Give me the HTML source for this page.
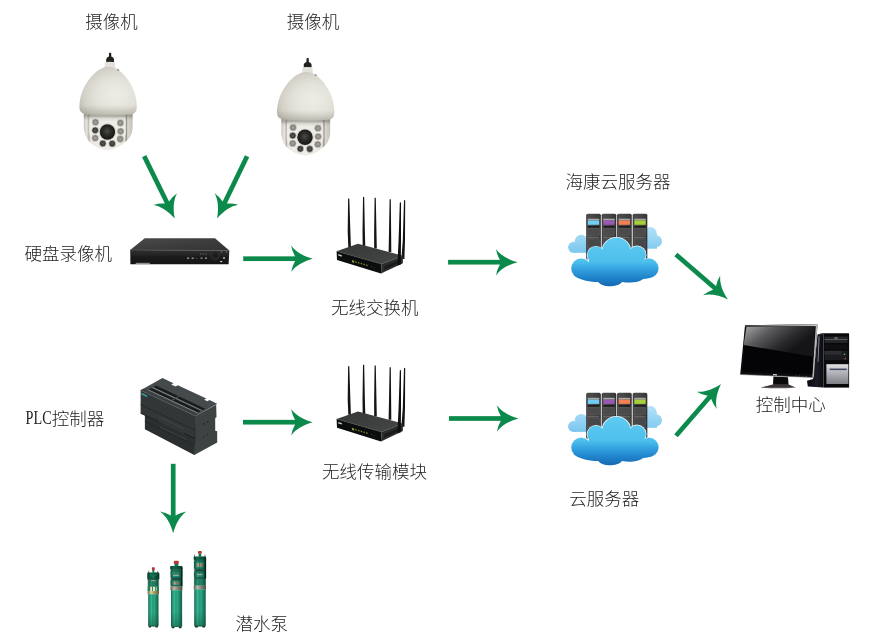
<!DOCTYPE html>
<html lang="zh-CN"><head><meta charset="utf-8"><title>系统拓扑图</title>
<style>
html,body{margin:0;padding:0;background:#fff}
body{width:869px;height:638px;overflow:hidden}
svg{display:block;will-change:transform}
text{font-family:"Liberation Sans","Noto Sans CJK SC",sans-serif;font-weight:300;font-size:17.5px;fill:#222}
.plc{font-family:"Liberation Serif","Noto Serif CJK SC",serif;font-weight:400;font-size:18px}
</style></head><body>
<svg width="869" height="638" viewBox="0 0 869 638">

<defs>
<radialGradient id="domeG" cx="0.63" cy="0.58" r="0.68">
<stop offset="0" stop-color="#edece6"/><stop offset="0.5" stop-color="#e3e2da"/><stop offset="0.82" stop-color="#d3d1c7"/><stop offset="1" stop-color="#bfbdb2"/>
</radialGradient>
<linearGradient id="domeShade" x1="0" y1="0" x2="0" y2="1">
<stop offset="0.8" stop-color="#8d8a7d" stop-opacity="0"/><stop offset="1" stop-color="#8d8a7d" stop-opacity="0.4"/>
</linearGradient>
<linearGradient id="headG" x1="0" y1="0" x2="1" y2="0">
<stop offset="0" stop-color="#c9c7be"/><stop offset="0.06" stop-color="#e8e6df"/><stop offset="0.11" stop-color="#b3b1a8"/><stop offset="0.13" stop-color="#e6e4de"/><stop offset="0.5" stop-color="#f1efea"/><stop offset="0.84" stop-color="#e2e0d9"/><stop offset="0.87" stop-color="#8f8d85"/><stop offset="0.9" stop-color="#d9d7cf"/><stop offset="1" stop-color="#c3c1b8"/>
</linearGradient>
<linearGradient id="headShade" x1="0" y1="0" x2="0" y2="1">
<stop offset="0" stop-color="#6f6d64" stop-opacity="0.6"/><stop offset="0.3" stop-color="#6f6d64" stop-opacity="0.5"/><stop offset="0.45" stop-color="#6f6d64" stop-opacity="0.12"/><stop offset="0.6" stop-color="#6f6d64" stop-opacity="0"/>
</linearGradient>
<radialGradient id="lensG" cx="0.48" cy="0.45" r="0.55">
<stop offset="0" stop-color="#4b4b47"/><stop offset="0.5" stop-color="#2a2a27"/><stop offset="1" stop-color="#171716"/>
</radialGradient>
<radialGradient id="ledA" cx="0.5" cy="0.5" r="0.5">
<stop offset="0" stop-color="#a9a79e"/><stop offset="0.7" stop-color="#85837b"/><stop offset="1" stop-color="#5d5b55"/>
</radialGradient>
<radialGradient id="ledB" cx="0.5" cy="0.5" r="0.5">
<stop offset="0" stop-color="#5a5953"/><stop offset="0.7" stop-color="#3a3936"/><stop offset="1" stop-color="#2c2b29"/>
</radialGradient>
<g id="camera">
<path d="M0.9 0.4 Q2 -0.2 3.1 0.4 L3.2 4 Q5.6 4.6 5.9 6.6 L5.9 9.6 L-1.9 9.6 L-1.9 6.6 Q-1.6 4.6 0.8 4Z" fill="#222221"/>
<path d="M-3.3 9.6 Q1.8 8.6 6.9 9.6 L7.1 14.6 Q8 16.4 10.3 17.6 L-6.7 17.6 Q-4.4 16.4 -3.5 14.6Z" fill="#e3e1d9"/>
<path d="M-24.3 58 L24.5 58 L24.5 76 Q23.4 85 17.7 89 Q9.9 96.6 -0.6 97.6 Q-11.1 96.6 -19 89 Q-23.1 85 -24.3 76Z" fill="url(#headG)"/>
<path d="M-18.7 64 L17.5 64 L17.7 80 Q16.4 90 8.4 95 Q-0.6 98.6 -9.6 95 Q-17.6 90 -18.9 80Z" fill="#eeece6"/>
<path d="M-24.3 58 L24.5 58 L24.5 76 L-24.3 76Z" fill="url(#headShade)"/>
<circle cx="-0.65" cy="79.4" r="8.9" fill="#dcdad3"/>
<circle cx="-0.65" cy="79.4" r="7.7" fill="url(#lensG)"/>
<g stroke="#dedcd5" stroke-width="0.7">
<circle cx="-12.6" cy="69.6" r="3.4" fill="url(#ledA)"/>
<circle cx="-12.9" cy="77.7" r="3.4" fill="url(#ledB)"/>
<circle cx="-12.9" cy="85.5" r="3.4" fill="url(#ledA)"/>
<circle cx="-5.3" cy="90.9" r="3.4" fill="url(#ledB)"/>
<circle cx="4.1" cy="91.1" r="3.4" fill="url(#ledB)"/>
<circle cx="12.1" cy="86.4" r="3.4" fill="url(#ledA)"/>
<circle cx="12.5" cy="78.7" r="3.4" fill="url(#ledA)"/>
<circle cx="12.3" cy="70.3" r="3.4" fill="url(#ledA)"/>
</g>
<path id="domeP" d="M0.6 14.2 C13 14.2 28.7 33.5 28.7 54.4 L28.2 58 Q27 61 23 61.6 Q0 63.4 -23 61.4 Q-27 60.6 -28.2 58 L-28.7 54.4 C-28.7 33.5 -12 14.2 0.6 14.2Z" fill="url(#domeG)"/>
<path d="M0.6 14.2 C13 14.2 28.7 33.5 28.7 54.4 L28.2 58 Q27 61 23 61.6 Q0 63.4 -23 61.4 Q-27 60.6 -28.2 58 L-28.7 54.4 C-28.7 33.5 -12 14.2 0.6 14.2Z" fill="url(#domeShade)"/>
<ellipse cx="10.1" cy="17.2" rx="1.2" ry="0.8" fill="#8f8c80" transform="rotate(35 10.1 17.2)"/>
</g>
</defs>
<use href="#camera" transform="translate(108.1 52.6)"/>
<use href="#camera" transform="translate(305.65 57.9)"/>

<defs>
<linearGradient id="dvrTop" x1="0" y1="0" x2="1" y2="1">
<stop offset="0" stop-color="#4a4a4a"/><stop offset="0.6" stop-color="#3b3b3b"/><stop offset="1" stop-color="#333"/>
</linearGradient>
<linearGradient id="dvrFront" x1="0" y1="0" x2="0" y2="1">
<stop offset="0" stop-color="#303030"/><stop offset="0.35" stop-color="#242424"/><stop offset="0.5" stop-color="#1a1a1a"/><stop offset="1" stop-color="#151515"/>
</linearGradient>
</defs>
<g id="dvr">
<path d="M144.7 238.2 L215 238.2 L229.3 250.6 L130.2 249.9Z" fill="url(#dvrTop)"/>
<path d="M130.2 249.9 L229.3 250.6 L228.6 264.3 L130.4 264.3Z" fill="url(#dvrFront)"/>
<path d="M130.2 249.9 L229.3 250.6" stroke="#5a5a5a" stroke-width="0.6" fill="none"/>
<rect x="135.7" y="262.8" width="14.2" height="1.2" fill="#8f8f8f"/>
<g fill="#b8b8b8">
<rect x="187" y="257.6" width="2.2" height="1.1"/><rect x="191.6" y="257.6" width="2.2" height="1.1"/>
<rect x="200.6" y="257.6" width="1.8" height="1.1"/><rect x="205" y="257.6" width="2" height="1.1"/>
<rect x="223" y="257.4" width="2" height="1.2" fill="#e0e0e0"/><rect x="220.2" y="261" width="2" height="1.1" fill="#e0e0e0"/>
</g>
<g fill="#777"><circle cx="200.8" cy="254.1" r="0.6"/><circle cx="203.4" cy="254.1" r="0.6"/><circle cx="206" cy="254.1" r="0.6"/><circle cx="196.8" cy="258.2" r="0.5"/>
<circle cx="221.4" cy="251.9" r="0.7"/><circle cx="226.5" cy="251.9" r="0.7"/></g>
<circle cx="215.2" cy="255.7" r="4.4" fill="#242424" stroke="#383838" stroke-width="0.6"/>
<circle cx="215.2" cy="255.7" r="2.2" fill="#1c1c1c"/>
</g>

<defs>
<linearGradient id="rtTop" x1="0" y1="0" x2="1" y2="1">
<stop offset="0" stop-color="#343736"/><stop offset="1" stop-color="#454846"/>
</linearGradient>
<g id="router">
<g fill="#131414">
<path d="M348.1 198.8 Q348.7 197.8 349.3 198.8 L350.4 232 L350.9 247 L348.3 247 L347.7 232Z"/>
<path d="M363 197.2 Q363.6 196.2 364.2 197.2 L364.9 232 L365.3 247 L362.7 247 L362.5 232Z"/>
<path d="M374.6 198 Q375.2 197 375.8 198 L376.5 234 L376.8 248.5 L374.2 248.5 L374.1 234Z"/>
<path d="M389.6 199.6 Q390.2 198.6 390.8 199.6 L391.2 238 L391.3 252 L388.6 252 L388.9 238Z"/>
<path d="M404 200.4 Q404.6 199.4 405.2 200.4 L405 240 L404.4 259 L401.4 259 L402.8 240Z"/>
</g>
<path d="M336.6 251.2 L358 243.8 L402.9 255.7 L381.6 264.1Z" fill="url(#rtTop)"/>
<path d="M336.6 251.2 L381.6 264.1 L381 273.6 L337 259.9Z" fill="#0b0c0c"/>
<path d="M381.6 264.1 L402.9 255.7 L402.9 263.2 L381 273.6Z" fill="#2a2d2b"/>
<path d="M384.5 266.3 L400.5 259.6 L400.5 262.4 L384.3 269.8Z" fill="#1a1c1b"/>
<path d="M336.6 251.2 L381.6 264.1" stroke="#4f5351" stroke-width="0.5" fill="none"/>
<path d="M399.8 202.8 Q400.4 201.6 401 202.8 L401 240 L400.8 264.5 L397.4 265.4 L398.6 240Z" fill="#0e0f0f"/>
<path d="M338.2 254.1 L341.9 255.2 L341.9 256.7 L338.2 255.6Z" fill="#c9c9c9"/>
<g fill="#7c9a30">
<path d="M352 260 L354.2 260.65 L354.2 262.9 L352 262.25Z"/>
<path d="M355.3 261.3 L356.7 261.7 L356.7 262.9 L355.3 262.5Z"/>
<path d="M358 262 L359.4 262.4 L359.4 263.7 L358 263.3Z"/>
<path d="M360.7 262.8 L362.1 263.2 L362.1 264.5 L360.7 264.1Z"/>
<path d="M363.4 263.6 L364.8 264 L364.8 265.3 L363.4 264.9Z"/>
<path d="M366.1 264.4 L367.5 264.8 L367.5 266.1 L366.1 265.7Z"/>
</g>
<circle cx="371.8" cy="266.8" r="0.6" fill="#3a3f5a"/><circle cx="374.2" cy="268" r="0.5" fill="#444"/>
</g>
</defs>
<use href="#router"/>
<use href="#router" transform="translate(0 167.8)"/>

<defs>
<linearGradient id="rackG" x1="0" y1="0" x2="1" y2="0">
<stop offset="0" stop-color="#2a2a2a"/><stop offset="0.08" stop-color="#4c4c4c"/><stop offset="0.5" stop-color="#454545"/><stop offset="0.92" stop-color="#3a3a3a"/><stop offset="1" stop-color="#222"/>
</linearGradient>
<linearGradient id="cloudF" gradientUnits="userSpaceOnUse" x1="0" y1="237" x2="0" y2="287">
<stop offset="0" stop-color="#5fcbf1"/><stop offset="0.5" stop-color="#4dbfec"/><stop offset="0.62" stop-color="#36a6e2"/><stop offset="0.82" stop-color="#1f82ca"/><stop offset="1" stop-color="#1666b0"/>
</linearGradient>
<linearGradient id="cloudB" gradientUnits="userSpaceOnUse" x1="0" y1="227" x2="0" y2="252">
<stop offset="0" stop-color="#b4e2f8"/><stop offset="1" stop-color="#7cc7ef"/>
</linearGradient>
<linearGradient id="gloss" gradientUnits="userSpaceOnUse" x1="0" y1="237" x2="0" y2="270">
<stop offset="0" stop-color="#7fd8f7" stop-opacity="0.55"/><stop offset="1" stop-color="#5ccbf2" stop-opacity="0.25"/>
</linearGradient>
<g id="rack">
<rect x="0" y="0" width="14.6" height="46" rx="1.6" fill="url(#rackG)"/>
<rect x="1.6" y="5" width="11.4" height="1.8" fill="#a9a9a9"/>
<rect x="1.6" y="12.4" width="11.4" height="1.5" fill="#1a1a1a"/>
<rect x="1.6" y="14.6" width="11.4" height="7" fill="#4b4b4b" stroke="#5e5e5e" stroke-width="0.5"/>
<rect x="1.6" y="23.6" width="11.4" height="0.8" fill="#777"/>
<rect x="1.6" y="25.4" width="11.4" height="7" fill="#474747" stroke="#5a5a5a" stroke-width="0.5"/>
<rect x="1.6" y="34" width="11.4" height="0.8" fill="#6a6a6a"/>
</g>
<g id="cloudserver">
<g fill="url(#cloudB)">
<circle cx="581.2" cy="241.2" r="6.4"/><circle cx="573.6" cy="247.3" r="5.5"/><rect x="573" y="243" width="16" height="9.8"/>
<circle cx="650.3" cy="233.4" r="6.4"/><circle cx="656" cy="241.2" r="6"/><rect x="645" y="234" width="12" height="14.7"/>
</g>
<use href="#rack" x="586.2" y="213.7"/><rect x="587.8" y="220.5" width="11.4" height="4.3" fill="#6fcef6"/>
<use href="#rack" x="601.7" y="213.7"/><rect x="603.3" y="220.5" width="11.4" height="4.3" fill="#9a57b5"/>
<use href="#rack" x="617.1" y="213.7"/><rect x="618.7" y="220.5" width="11.4" height="4.3" fill="#f57e52"/>
<use href="#rack" x="632.7" y="213.7"/><rect x="634.3" y="220.5" width="11.4" height="4.3" fill="#a6cf38"/>
<rect x="643.6" y="250.6" width="2.2" height="1.8" fill="#e9e9e9"/>
<g fill="#e6f7fe">
<circle cx="616.4" cy="251.8" r="14.9"/><circle cx="596" cy="255.1" r="9.2"/><circle cx="636.9" cy="255.1" r="9.6"/>
<circle cx="581.2" cy="268.5" r="10.5"/><circle cx="648.9" cy="268.2" r="10.2"/>
</g>
<g fill="url(#cloudF)">
<circle cx="616.4" cy="251.8" r="14.1"/><circle cx="596" cy="255.1" r="8.5"/><circle cx="636.9" cy="255.1" r="8.9"/>
<circle cx="581.2" cy="268.5" r="9.9"/><circle cx="648.9" cy="268.2" r="9.6"/>
<path d="M574.1 275.5 Q581.2 280.5 590.3 281.4 Q595.3 282.0 598.1 281.9 C600.9 285.4 605.8 286.4 609.6 286.2 C614.3 286.2 619.9 285.1 622.1 281.9 Q627.7 282.9 633.3 282.3 Q639.7 281.9 643.2 279.0 Q647.4 278.6 651.7 277.2 L653.1 267.1 L574.1 267.1 Z"/>
<rect x="589" y="257" width="53" height="14"/>
</g>
</g>
</defs>
<use href="#cloudserver"/>
<use href="#cloudserver" transform="translate(0 179.1)"/>

<defs>
<linearGradient id="scrG" gradientUnits="userSpaceOnUse" x1="750" y1="326" x2="776" y2="362">
<stop offset="0" stop-color="#9a9a9c"/><stop offset="0.35" stop-color="#5a5a5c"/><stop offset="0.75" stop-color="#29292b"/><stop offset="1" stop-color="#151517"/>
</linearGradient>
<linearGradient id="bezG" x1="0" y1="0" x2="1" y2="0">
<stop offset="0" stop-color="#3a3a3c"/><stop offset="0.5" stop-color="#8e8e90"/><stop offset="1" stop-color="#c9c9cb"/>
</linearGradient>
<linearGradient id="silverG" x1="0" y1="0" x2="0" y2="1">
<stop offset="0" stop-color="#e2e3e6"/><stop offset="0.35" stop-color="#b9bbc0"/><stop offset="1" stop-color="#7d7f85"/>
</linearGradient>
<linearGradient id="towerSide" x1="0" y1="0" x2="1" y2="0">
<stop offset="0" stop-color="#0a0a10"/><stop offset="0.6" stop-color="#1a1c26"/><stop offset="1" stop-color="#0b0b0f"/>
</linearGradient>
</defs>
<g id="pc">
<!-- tower -->
<path d="M817.5 334.4 L823.5 333.1 L823.5 387.6 L807.8 386.6 L807 380.8 L813 379Z" fill="url(#towerSide)"/>
<path d="M818.6 336.5 L819.6 336.3 L818.4 362 L817.6 362Z" fill="#8c8f99"/>
<path d="M817.5 334.4 L823.5 333.1 L849 333.1 L849 334.6 L823.5 334.6Z" fill="#4d4e52"/>
<rect x="823.5" y="333.9" width="25.6" height="53.7" fill="#09090b"/>
<rect x="824.6" y="336.6" width="23" height="6.3" fill="#25262a"/>
<rect x="824.6" y="339" width="23" height="0.7" fill="#6d6e73"/>
<rect x="834.5" y="337.6" width="3" height="0.8" fill="#c9c9cc"/>
<rect x="824.6" y="344.4" width="23" height="4.6" fill="#0f0f12"/>
<rect x="824.6" y="350.8" width="23" height="9.2" fill="#1b1c20"/>
<rect x="824.6" y="350.8" width="17" height="3.8" fill="#2d2e33"/>
<circle cx="844.5" cy="354.3" r="0.8" fill="#67c25b"/><circle cx="845.2" cy="358.7" r="0.8" fill="#c0504a"/>
<rect x="826.4" y="364.2" width="22" height="19.8" fill="url(#silverG)"/>
<rect x="829.7" y="368.6" width="17" height="1.5" fill="#3a3f58"/>
<rect x="829.7" y="368.6" width="17" height="0.5" fill="#8a90b0"/>
<!-- monitor -->
<path d="M773.4 376.5 L788 377.2 L788.6 385.6 L773 385.6Z" fill="#0b0b0c"/>
<path d="M760.6 387.5 L772.6 384.4 L788.6 384.4 L795.8 387.5 Q778 389.2 760.6 387.5Z" fill="#5a5254"/>
<path d="M764 387 L773 384.8 L788.4 384.8 L793 387Z" fill="#3a3537"/>
<path d="M745 325.2 L817.5 324.3 L813.8 377.5 L740.2 374.5Z" fill="#0d0d0f"/>
<path d="M745 325.2 L817.5 324.3 L817.3 326.2 L745 326.9Z" fill="url(#bezG)"/>
<path d="M817.5 324.3 L813.8 377.5 L812.3 377.4 L815.9 324.4Z" fill="#b9b9bc"/>
<path d="M746.5 327 L814.6 326.6 L812.1 374.2 L742.3 371.8Z" fill="#040305"/>
<path d="M746.5 327 L814.6 326.6 L813.7 356.8 L743.6 345Z" fill="url(#scrG)"/>
<path d="M740.2 374.5 L813.8 377.5" stroke="#7d7d80" stroke-width="0.6" fill="none"/>
<rect x="773" y="374.2" width="4" height="1.1" fill="#d5d5d8" transform="rotate(2.3 775 374.7)"/>
<g fill="#55565a"><rect x="795" y="375.6" width="1.6" height="0.7"/><rect x="798.5" y="375.7" width="1.6" height="0.7"/><rect x="802" y="375.9" width="1.6" height="0.7"/><rect x="805.5" y="376" width="1.6" height="0.7"/></g>
</g>

<g id="plc">
<path d="M195.3 415.9 L216.2 404.7 L216.5 417.2 L215.2 417.9 L215.2 430.8 L217.2 431.2 L217.2 442.4 L194.3 455.1Z" fill="#3d4243"/>
<path d="M144.9 412.0 L195.3 436.0 L194.3 455.1 L144.9 429.3Z" fill="#2b2f30"/>
<path d="M140.6 390.3 L195.3 415.9 L195.3 438.8 L140.6 413.2Z" fill="#323637"/>
<path d="M140.6 404.7 L195.3 430.3" stroke="#24282a" stroke-width="0.9" fill="none"/>
<path d="M144.9 421.5 L194.8 445.5" stroke="#202425" stroke-width="0.8" fill="none"/>
<path d="M140.6 413.2 L195.3 438.8" stroke="#1d2021" stroke-width="1" fill="none"/>
<path d="M159 417 L184 429 M159 421.5 L184 433.5 M160 427 L186 439.3" stroke="#555b5c" stroke-width="0.6" fill="none" opacity="0.7"/>
<path d="M140.6 390.3 L195.3 415.9 L217.2 403.7 L209.5 400.1 L207.4 401.3 L204.1 399.8 L206.3 398.6 L177.8 385.3 L175.6 386.5 L171.2 384.4 L173.4 383.2 L162.5 378.1Z" fill="#454b4d"/>
<path d="M140.6 390.3 L195.3 415.9 L197.9 414.4 L143.2 388.8Z" fill="#3a3f41"/>
<path d="M148.2 390.0 L197.4 413.1 L205.3 408.7 L156.0 385.6Z" fill="#1a1c1d"/>
<path d="M151.7 388.1 L200.9 411.1 L202.2 410.4 L153.0 387.3Z" fill="#5a6062"/>
<path d="M148.2 390.0 L197.4 413.1 L198.0 412.7 L148.8 389.7Z" fill="#cfd2d3"/>
<path d="M152.5 387.6 L201.8 410.6 L202.3 410.3 L153.1 387.3Z" fill="#a5aaab"/>
<path d="M171.2 400.1 L172.3 400.7 L179.6 396.6 L178.5 396.1Z" fill="#4a5052"/>
<path d="M140.6 390.3 L195.3 415.9 L216.2 404.7" stroke="#5b6264" stroke-width="0.6" fill="none"/>
<path d="M195.3 415.9 L194.4 455" stroke="#2a2e2f" stroke-width="0.7" fill="none"/>
<path d="M141.4 392.7 L147.2 395.4 L147.2 397.2 L141.4 394.5Z" fill="#35a09a"/>
<g fill="#2a2e2f"><circle cx="204" cy="424" r="0.9"/><circle cx="207.5" cy="422" r="0.9"/><circle cx="204" cy="436.5" r="0.9"/><circle cx="207.5" cy="434.5" r="0.9"/></g>
</g>
<defs>
<linearGradient id="pumpG" x1="0" y1="0" x2="1" y2="0">
<stop offset="0" stop-color="#126a50"/><stop offset="0.14" stop-color="#219574"/><stop offset="0.3" stop-color="#3db391"/><stop offset="0.44" stop-color="#259b79"/><stop offset="0.58" stop-color="#2fa583"/><stop offset="0.8" stop-color="#1a8466"/><stop offset="1" stop-color="#0e5c45"/>
</linearGradient>
<linearGradient id="pumpD" x1="0" y1="0" x2="1" y2="0">
<stop offset="0" stop-color="#084a34"/><stop offset="0.3" stop-color="#147d59"/><stop offset="0.6" stop-color="#0e6a4b"/><stop offset="1" stop-color="#063b29"/>
</linearGradient>
<linearGradient id="steelG" x1="0" y1="0" x2="1" y2="0">
<stop offset="0" stop-color="#5d5e52"/><stop offset="0.3" stop-color="#b9baae"/><stop offset="0.55" stop-color="#8b8c80"/><stop offset="1" stop-color="#4e4f44"/>
</linearGradient>
<linearGradient id="brassG" x1="0" y1="0" x2="1" y2="0">
<stop offset="0" stop-color="#7a6b3f"/><stop offset="0.3" stop-color="#d8cfa4"/><stop offset="0.6" stop-color="#a79764"/><stop offset="1" stop-color="#6a5c35"/>
</linearGradient>
<linearGradient id="vshade" x1="0" y1="0" x2="0" y2="1">
<stop offset="0" stop-color="#04301f" stop-opacity="0.45"/><stop offset="0.3" stop-color="#04301f" stop-opacity="0"/><stop offset="0.75" stop-color="#04301f" stop-opacity="0"/><stop offset="1" stop-color="#04301f" stop-opacity="0.55"/>
</linearGradient>
<linearGradient id="bodyShade" x1="0" y1="0" x2="0" y2="1"><stop offset="0" stop-color="#083f2c" stop-opacity="0"/><stop offset="0.6" stop-color="#083f2c" stop-opacity="0"/><stop offset="1" stop-color="#083f2c" stop-opacity="0.35"/></linearGradient>
<linearGradient id="creamG" x1="0" y1="0" x2="1" y2="0"><stop offset="0" stop-color="#8f8662"/><stop offset="0.3" stop-color="#e6dfc2"/><stop offset="0.6" stop-color="#c9c09a"/><stop offset="1" stop-color="#7d7552"/></linearGradient>
</defs>
<g id="pumps">
<!-- pump 1 -->
<rect x="151.9" y="567.2" width="2.9" height="3" rx="0.7" fill="#b8382e"/>
<rect x="152.4" y="570" width="1.9" height="2.8" fill="#117352"/>
<rect x="148.2" y="570.6" width="1" height="2.4" fill="#8c8a78"/><rect x="157.2" y="571" width="1" height="2.4" fill="#8c8a78"/>
<rect x="147.3" y="572.6" width="12" height="7" rx="1.2" fill="url(#pumpD)"/>
<path d="M149.5 574.2 L153.3 576.6 L157.3 574.2 M153.3 573.4 L153.3 579" stroke="#2aa97d" stroke-width="0.8" fill="none"/>
<rect x="148.2" y="579.4" width="10.3" height="7.2" fill="url(#pumpG)"/>
<rect x="151.2" y="580" width="4.2" height="1.2" fill="#cfccbb"/>
<rect x="147.6" y="586.4" width="11.4" height="4.6" fill="#17805b"/>
<rect x="150.2" y="586.8" width="1.9" height="4.2" fill="#e9e2c4"/><rect x="153" y="586.8" width="1.9" height="4.2" fill="#efe9cf"/><rect x="155.6" y="587.2" width="1.3" height="3.6" fill="#bdb48c"/>
<rect x="147.6" y="591" width="11.4" height="3.3" fill="url(#brassG)"/>
<rect x="148.2" y="594.2" width="10.3" height="31.6" fill="url(#pumpG)"/><rect x="148.2" y="594.2" width="10.3" height="31.6" fill="url(#bodyShade)"/>
<path d="M148.4 625.6 L158.3 625.6 L157.7 627.4 L155.6 627.4 L155.2 626.4 L151.2 626.4 L150.8 627.4 L148.9 627.4Z" fill="#083f2c"/>
<!-- pump 2 -->
<rect x="173.8" y="560.8" width="5" height="3.1" rx="1" fill="#b8382e"/>
<rect x="174.5" y="563.8" width="3.9" height="2.6" fill="#117352"/>
<rect x="170.2" y="566" width="12.2" height="3.8" rx="1" fill="url(#pumpD)"/>
<rect x="170.6" y="569.6" width="11.6" height="9.2" rx="2.2" fill="url(#pumpG)"/><rect x="170.6" y="569.6" width="11.6" height="9.2" rx="2.2" fill="url(#vshade)"/>
<rect x="173.2" y="574.7" width="5.6" height="1.3" fill="#d6d2c0"/>
<rect x="170.6" y="579" width="11.6" height="7.6" rx="2" fill="url(#pumpG)"/><rect x="170.6" y="579" width="11.6" height="7.6" rx="2" fill="url(#vshade)"/>
<rect x="172.8" y="581.7" width="6.5" height="3" fill="url(#creamG)"/><rect x="175.8" y="581.7" width="0.6" height="3" fill="#5a4e32"/>
<rect x="181" y="567.5" width="1.5" height="19" fill="#06281c"/>
<rect x="170.5" y="586.4" width="11.9" height="4" fill="url(#steelG)"/>
<rect x="171" y="590.2" width="11.1" height="36.2" fill="url(#pumpG)"/><rect x="171" y="590.2" width="11.1" height="36.2" fill="url(#bodyShade)"/>
<path d="M171.3 626.2 L181.9 626.2 L181.3 628.2 L179 628.2 L178.6 627 L174.6 627 L174.2 628.2 L171.9 628.2Z" fill="#083f2c"/>
<!-- pump 3 -->
<rect x="198" y="550.9" width="3.8" height="2.9" rx="0.9" fill="#b8382e"/>
<rect x="198.6" y="553.6" width="2.6" height="3.2" fill="#117352"/>
<rect x="194" y="554.6" width="1" height="2.4" fill="#8c8a78"/><rect x="204.4" y="554.6" width="1" height="2.4" fill="#8c8a78"/>
<rect x="193.7" y="556.5" width="12.4" height="3.4" rx="1" fill="url(#pumpD)"/>
<rect x="194" y="559.6" width="12" height="10.6" rx="2.4" fill="url(#pumpG)"/><rect x="194" y="559.6" width="12" height="10.6" rx="2.4" fill="url(#vshade)"/>
<rect x="196.1" y="563.1" width="7" height="3.8" fill="url(#creamG)"/><rect x="199.4" y="563.1" width="0.6" height="3.8" fill="#5a4e32"/>
<rect x="194" y="570.8" width="12" height="7.6" rx="2.2" fill="url(#pumpG)"/><rect x="194" y="570.8" width="12" height="7.6" rx="2.2" fill="url(#vshade)"/>
<rect x="197" y="573.9" width="5.2" height="1.3" fill="#d6d2c0"/>
<rect x="194.3" y="578.2" width="11.4" height="7.6" fill="url(#pumpG)"/>
<rect x="204.5" y="558.5" width="1.6" height="20" fill="#06281c"/>
<rect x="193.8" y="585.5" width="12.2" height="4" fill="url(#steelG)"/>
<rect x="194.2" y="589.3" width="11.5" height="36.5" fill="url(#pumpG)"/><rect x="194.2" y="589.3" width="11.5" height="36.5" fill="url(#bodyShade)"/>
<path d="M194.5 625.6 L205.5 625.6 L204.9 627.4 L202.6 627.4 L202.2 626.4 L198 626.4 L197.6 627.4 L195.1 627.4Z" fill="#083f2c"/>
<g fill="#04251a">
<rect x="147.3" y="572.6" width="12" height="14" opacity="0.28"/>
<rect x="170.2" y="566" width="12.3" height="20.4" opacity="0.25"/>
<rect x="193.7" y="556.5" width="12.4" height="29" opacity="0.25"/>
<rect x="170.8" y="578.4" width="11.2" height="0.9" opacity="0.75"/>
<rect x="194.2" y="570" width="11.6" height="0.9" opacity="0.75"/>
<rect x="194.4" y="578" width="11.2" height="0.7" opacity="0.55"/>
<rect x="148.2" y="579" width="10.3" height="0.7" opacity="0.55"/>
</g>
</g>

<g id="arrows">
<g transform="translate(174.6 218.2) rotate(63.88)" fill="#0b8a4b"><rect x="-69.1" y="-2.35" width="53.1" height="4.7"/><path d="M0.3 0 C-9 -2.5 -17 -7 -21.3 -13.2 Q-20.4 -7.6 -17.4 -2.3 L-17.4 2.3 Q-20.4 7.6 -21.3 13.2 C-17 7 -9 2.5 0.3 0Z"/></g>
<g transform="translate(217.2 218.2) rotate(115.75)" fill="#0b8a4b"><rect x="-68.8" y="-2.35" width="52.8" height="4.7"/><path d="M0.3 0 C-9 -2.5 -17 -7 -21.3 -13.2 Q-20.4 -7.6 -17.4 -2.3 L-17.4 2.3 Q-20.4 7.6 -21.3 13.2 C-17 7 -9 2.5 0.3 0Z"/></g>
<g transform="translate(312.5 258.7) rotate(0.00)" fill="#0b8a4b"><rect x="-69.3" y="-2.35" width="53.3" height="4.7"/><path d="M0.3 0 C-9 -2.5 -17 -7 -21.3 -13.2 Q-20.4 -7.6 -17.4 -2.3 L-17.4 2.3 Q-20.4 7.6 -21.3 13.2 C-17 7 -9 2.5 0.3 0Z"/></g>
<g transform="translate(517.3 262.2) rotate(0.00)" fill="#0b8a4b"><rect x="-69.2" y="-2.35" width="53.2" height="4.7"/><path d="M0.3 0 C-9 -2.5 -17 -7 -21.3 -13.2 Q-20.4 -7.6 -17.4 -2.3 L-17.4 2.3 Q-20.4 7.6 -21.3 13.2 C-17 7 -9 2.5 0.3 0Z"/></g>
<g transform="translate(312.5 422.2) rotate(0.00)" fill="#0b8a4b"><rect x="-69.5" y="-2.35" width="53.5" height="4.7"/><path d="M0.3 0 C-9 -2.5 -17 -7 -21.3 -13.2 Q-20.4 -7.6 -17.4 -2.3 L-17.4 2.3 Q-20.4 7.6 -21.3 13.2 C-17 7 -9 2.5 0.3 0Z"/></g>
<g transform="translate(518.2 418.5) rotate(0.00)" fill="#0b8a4b"><rect x="-69.2" y="-2.35" width="53.2" height="4.7"/><path d="M0.3 0 C-9 -2.5 -17 -7 -21.3 -13.2 Q-20.4 -7.6 -17.4 -2.3 L-17.4 2.3 Q-20.4 7.6 -21.3 13.2 C-17 7 -9 2.5 0.3 0Z"/></g>
<g transform="translate(727.7 299.3) rotate(40.86)" fill="#0b8a4b"><rect x="-68.5" y="-2.35" width="52.5" height="4.7"/><path d="M0.3 0 C-9 -2.5 -17 -7 -21.3 -13.2 Q-20.4 -7.6 -17.4 -2.3 L-17.4 2.3 Q-20.4 7.6 -21.3 13.2 C-17 7 -9 2.5 0.3 0Z"/></g>
<g transform="translate(720.8 384.2) rotate(-49.03)" fill="#0b8a4b"><rect x="-68.3" y="-2.35" width="52.3" height="4.7"/><path d="M0.3 0 C-9 -2.5 -17 -7 -21.3 -13.2 Q-20.4 -7.6 -17.4 -2.3 L-17.4 2.3 Q-20.4 7.6 -21.3 13.2 C-17 7 -9 2.5 0.3 0Z"/></g>
<g transform="translate(173.2 532.9) rotate(90.00)" fill="#0b8a4b"><rect x="-69.1" y="-2.35" width="53.1" height="4.7"/><path d="M0.3 0 C-9 -2.5 -17 -7 -21.3 -13.2 Q-20.4 -7.6 -17.4 -2.3 L-17.4 2.3 Q-20.4 7.6 -21.3 13.2 C-17 7 -9 2.5 0.3 0Z"/></g>
</g>
<g id="labels">
<text x="85.3" y="27.6">摄像机</text>
<text x="286.8" y="27.6">摄像机</text>
<text x="24.5" y="259.6">硬盘录像机</text>
<text x="331" y="314.3">无线交换机</text>
<text x="565.6" y="188.0">海康云服务器</text>
<text x="322" y="477.9">无线传输模块</text>
<text x="569.2" y="504.9">云服务器</text>
<text x="755.7" y="411.4">控制中心</text>
<text x="235.5" y="629.7">潜水泵</text>
<text x="25.6" y="424"><tspan class="plc" textLength="26" lengthAdjust="spacingAndGlyphs">PLC</tspan><tspan x="51.7" y="424.8">控制器</tspan></text>
</g>
</svg>
</body></html>
